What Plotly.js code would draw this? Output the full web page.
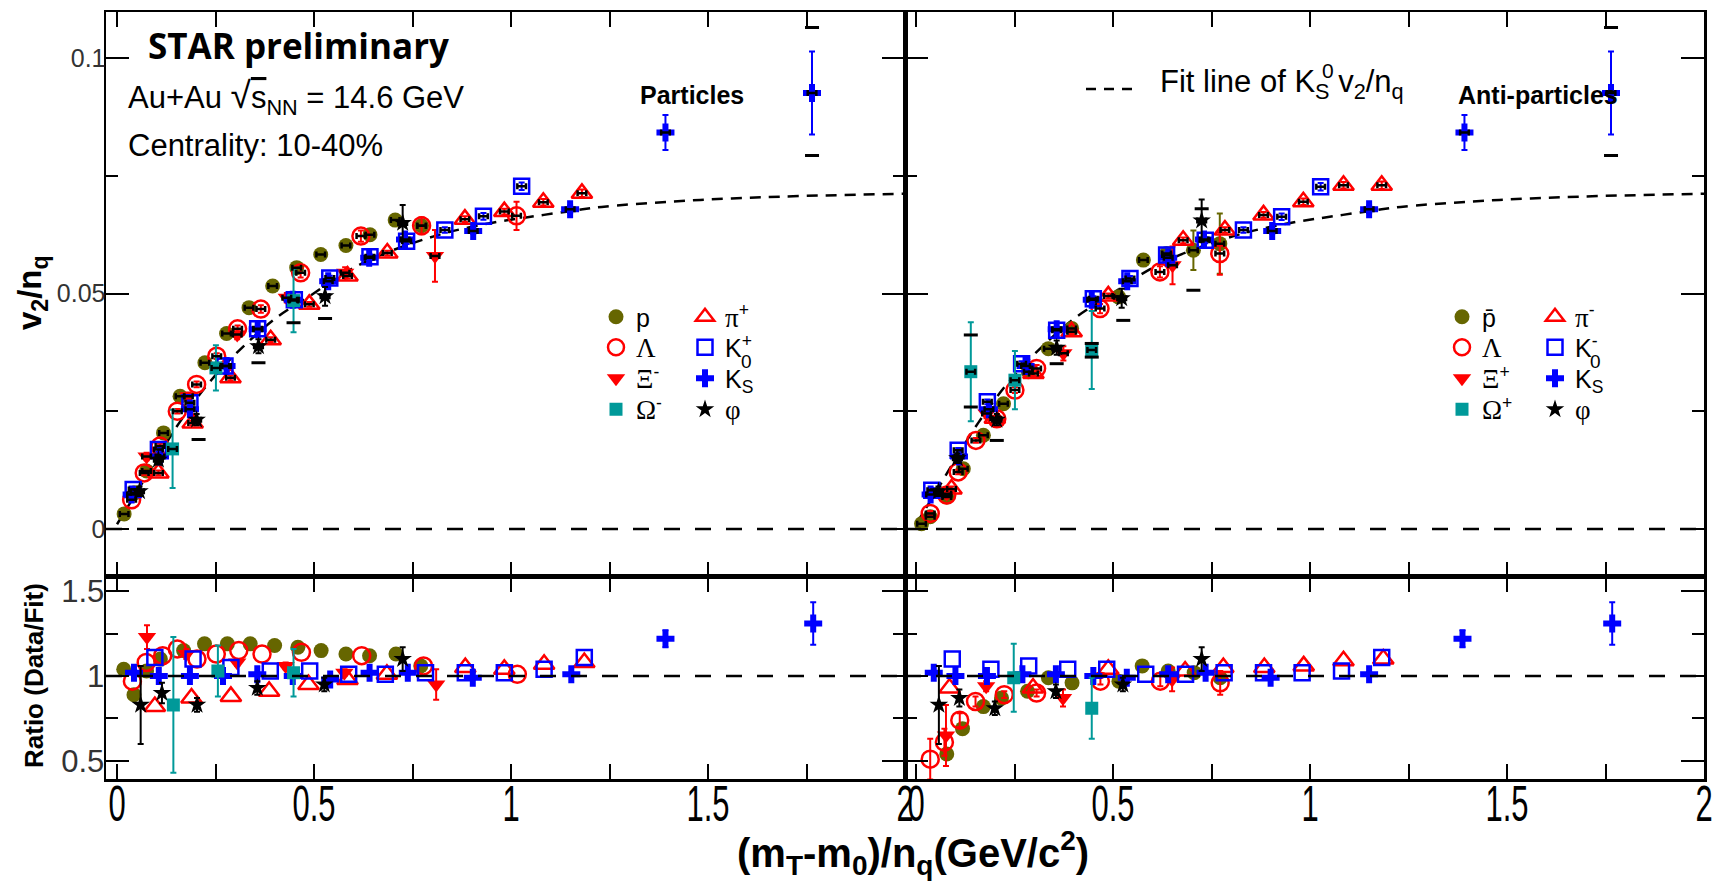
<!DOCTYPE html>
<html><head><meta charset="utf-8">
<script src="https://cdn.plot.ly/plotly-3.0.1.min.js"></script>
<style>html,body{margin:0;padding:0;background:#fff;}#chart{width:1716px;height:891px;}</style>
</head><body><div id="chart"></div>
<script>
// ---------------- data ----------------
const fitX=[0.0,0.05,0.1,0.16,0.24,0.33,0.41,0.49,0.57,0.65,0.74,0.84,0.95,1.05,1.15,1.23,1.4,1.56,1.73,2.0];
const fitY=[0.0010,0.0078,0.0148,0.0228,0.0317,0.0395,0.0452,0.0495,0.0540,0.0575,0.0604,0.0630,0.0650,0.0663,0.0675,0.0684,0.0695,0.0702,0.0707,0.0712];

// particles (left, upper)
const L_pX=[0.018,0.046,0.075,0.118,0.160,0.223,0.278,0.335,0.395,0.456,0.517,0.581,0.642,0.706,0.773];
const L_pY=[0.0032,0.0077,0.0123,0.0204,0.0282,0.0353,0.0415,0.0470,0.0516,0.0555,0.0583,0.0602,0.0625,0.0656,0.0644];
const L_pE=[0.0005,0.0005,0.0005,0.0005,0.0005,0.0005,0.0005,0.0005,0.0005,0.0005,0.0005,0.0006,0.0006,0.0008,0.0010];
const L_lamX=[0.037,0.069,0.109,0.153,0.202,0.253,0.306,0.365,0.466,0.619,0.773,1.014];
const L_lamY=[0.0062,0.0119,0.0176,0.0250,0.0307,0.0367,0.0425,0.0467,0.0544,0.0622,0.0644,0.0665];
const L_lamE=[0.0005,0.0005,0.0005,0.0005,0.0006,0.0006,0.0007,0.0008,0.0010,0.0012,0.0018,0.0030];
const L_xiX=[0.075,0.181,0.305,0.431,0.579,0.807];
const L_xiY=[0.0154,0.0282,0.0413,0.0491,0.0544,0.0580];
const L_xiE=[0.0008,0.0008,0.0010,0.0010,0.0012,0.0055];
const L_omX=[0.141,0.251,0.448];
const L_omY=[0.0170,0.0342,0.0485];
const L_omE=[0.0083,0.0048,0.0067];
const L_piX=[0.105,0.192,0.288,0.390,0.488,0.585,0.686,0.883,0.983,1.082,1.180];
const L_piY=[0.0119,0.0225,0.0321,0.0402,0.0477,0.0537,0.0586,0.0658,0.0674,0.0694,0.0713];
const L_piE=[0.0005,0.0005,0.0005,0.0005,0.0005,0.0005,0.0005,0.0006,0.0006,0.0007,0.0008];
const L_kX=[0.041,0.105,0.185,0.274,0.357,0.450,0.540,0.642,0.735,0.832,0.930,1.027];
const L_kY=[0.0084,0.0169,0.0268,0.0346,0.0425,0.0487,0.0533,0.0578,0.0611,0.0635,0.0664,0.0728];
const L_kE=[0.0005,0.0005,0.0005,0.0005,0.0005,0.0005,0.0005,0.0005,0.0006,0.0006,0.0007,0.0008];
const L_k0X=[0.037,0.109,0.185,0.278,0.357,0.446,0.536,0.640,0.731,0.904,1.150,1.392,1.764];
const L_k0Y=[0.0073,0.0154,0.0254,0.0346,0.0424,0.0487,0.0526,0.0576,0.0615,0.0633,0.0679,0.0842,0.0926];
const L_k0E=[0.0005,0.0005,0.0005,0.0005,0.0005,0.0005,0.0005,0.0005,0.0005,0.0006,0.0008,0.0037,0.0088];
const L_phiX=[0.057,0.105,0.202,0.359,0.528,0.725];
const L_phiY=[0.0080,0.0147,0.0232,0.0388,0.0494,0.0650];
const L_phiE=[0.0010,0.0010,0.0012,0.0015,0.0020,0.0038];
const L_sysX=[1.764,1.764,0.207,0.359,0.528,0.448];
const L_sysY=[0.1065,0.0793,0.0190,0.0353,0.0447,0.0438];

// anti-particles (right, upper)
const R_pX=[0.014,0.036,0.078,0.120,0.171,0.222,0.285,0.336,0.395,0.514,0.577,0.636,0.704,0.771];
const R_pY=[0.0011,0.0026,0.0068,0.0128,0.0199,0.0266,0.0334,0.0383,0.0426,0.0493,0.0571,0.0585,0.0592,0.0606];
const R_pE=[0.0005,0.0005,0.0005,0.0005,0.0005,0.0005,0.0005,0.0005,0.0006,0.0007,0.0010,0.0012,0.0042,0.0064];
const R_lamX=[0.036,0.078,0.107,0.152,0.205,0.251,0.306,0.467,0.619,0.771];
const R_lamY=[0.0033,0.0072,0.0121,0.0188,0.0234,0.0295,0.0341,0.0468,0.0546,0.0585];
const R_lamE=[0.0005,0.0005,0.0005,0.0005,0.0006,0.0006,0.0007,0.0010,0.0012,0.0045];
const R_xiX=[0.078,0.179,0.374,0.651];
const R_xiY=[0.0075,0.0245,0.0373,0.0560];
const R_xiE=[0.0008,0.0010,0.0015,0.0040];
const R_omX=[0.139,0.251,0.446];
const R_omY=[0.0334,0.0316,0.0380];
const R_omE=[0.0105,0.0062,0.0083];
const R_piX=[0.090,0.200,0.298,0.395,0.488,0.678,0.784,0.882,0.983,1.085,1.182];
const R_piY=[0.0085,0.0235,0.0330,0.0419,0.0495,0.0613,0.0635,0.0667,0.0695,0.0730,0.0730];
const R_piE=[0.0005,0.0005,0.0005,0.0005,0.0005,0.0006,0.0006,0.0006,0.0007,0.0007,0.0008];
const R_kX=[0.040,0.107,0.181,0.268,0.357,0.450,0.543,0.636,0.734,0.831,0.928,1.027];
const R_kY=[0.0082,0.0167,0.0270,0.0351,0.0422,0.0489,0.0532,0.0582,0.0613,0.0635,0.0663,0.0727];
const R_kE=[0.0005,0.0005,0.0005,0.0005,0.0005,0.0005,0.0005,0.0005,0.0006,0.0006,0.0007,0.0008];
const R_k0X=[0.037,0.109,0.185,0.278,0.357,0.446,0.536,0.640,0.731,0.904,1.150,1.392,1.764];
const R_k0Y=[0.0073,0.0154,0.0254,0.0346,0.0424,0.0487,0.0526,0.0576,0.0615,0.0633,0.0679,0.0842,0.0926];
const R_k0E=[0.0005,0.0005,0.0005,0.0005,0.0005,0.0005,0.0005,0.0005,0.0005,0.0006,0.0008,0.0037,0.0088];
const R_phiX=[0.057,0.105,0.205,0.357,0.522,0.725];
const R_phiY=[0.0080,0.0150,0.0232,0.0385,0.0490,0.0655];
const R_phiE=[0.0010,0.0010,0.0012,0.0015,0.0020,0.0045];
const R_sysX=[1.764,1.764,0.139,0.139,0.446,0.446,0.704,0.725,0.205,0.357,0.526];
const R_sysY=[0.1065,0.0793,0.0412,0.0259,0.0394,0.0365,0.0507,0.0680,0.0188,0.0351,0.0443];

// ratios (left)
const LR_pX=[0.017,0.043,0.075,0.110,0.169,0.222,0.280,0.338,0.400,0.459,0.518,0.581,0.641,0.708,0.771];
const LR_pR=[1.04,0.89,1.03,1.10,1.15,1.19,1.19,1.19,1.18,1.17,1.15,1.13,1.12,1.13,1.06];
const LR_lamX=[0.039,0.074,0.116,0.153,0.203,0.252,0.309,0.368,0.468,0.621,0.778,1.016];
const LR_lamR=[0.97,1.08,1.12,1.16,1.10,1.13,1.15,1.13,1.14,1.12,1.06,1.01];
const LR_xiX=[0.076,0.176,0.305,0.428,0.577,0.810];
const LR_xiR=[1.23,1.13,1.08,1.06,1.02,0.95];
const LR_xiE=[0.07,0.03,0.02,0.02,0.02,0.09];
const LR_omX=[0.143,0.256,0.448];
const LR_omR=[0.83,1.03,1.02];
const LR_omE=[0.40,0.15,0.14];
const LR_piX=[0.096,0.189,0.289,0.386,0.486,0.585,0.685,0.884,0.983,1.084,1.186];
const LR_piR=[0.82,0.87,0.88,0.91,0.95,0.98,1.01,1.05,1.04,1.07,1.08];
const LR_kX=[0.096,0.193,0.289,0.389,0.489,0.588,0.681,0.783,0.884,0.983,1.084,1.186];
const LR_kR=[1.11,1.10,1.05,1.03,1.03,1.01,1.01,1.02,1.02,1.02,1.04,1.11];
const LR_k0X=[0.043,0.106,0.185,0.269,0.356,0.446,0.541,0.641,0.738,0.903,1.153,1.392,1.767];
const LR_k0R=[1.02,1.00,1.00,1.00,1.01,1.00,0.98,1.02,1.02,0.99,1.01,1.22,1.31];
const LR_k0E=[0.01,0.01,0.01,0.01,0.01,0.01,0.01,0.01,0.01,0.01,0.01,0.05,0.125];
const LR_phiX=[0.060,0.114,0.203,0.356,0.526,0.725];
const LR_phiR=[0.83,0.90,0.83,0.93,0.95,1.10];
const LR_phiE=[0.23,0.06,0.04,0.04,0.04,0.07];

// ratios (right)
const RR_pX=[0.078,0.118,0.171,0.217,0.283,0.336,0.396,0.515,0.574,0.640,0.706,0.772];
const RR_pR=[0.54,0.69,0.82,0.87,0.91,0.99,0.96,0.97,1.06,1.03,1.02,0.99];
const RR_lamX=[0.036,0.072,0.111,0.151,0.224,0.306,0.468,0.620,0.772];
const RR_lamR=[0.51,0.61,0.74,0.85,0.89,0.90,0.97,0.97,0.96];
const RR_lamE=[0.12,0.08,0.04,0.03,0.02,0.02,0.02,0.03,0.07];
const RR_xiX=[0.076,0.178,0.373,0.650];
const RR_xiR=[0.65,0.94,0.87,0.98];
const RR_xiE=[0.18,0.03,0.05,0.07];
const RR_omX=[0.248,0.446];
const RR_omR=[0.99,0.81];
const RR_omE=[0.20,0.18];
const RR_piX=[0.085,0.297,0.488,0.683,0.780,0.884,0.984,1.085,1.186];
const RR_piR=[0.93,0.93,1.04,1.03,1.05,1.05,1.06,1.09,1.10];
const RR_kX=[0.092,0.190,0.286,0.385,0.484,0.583,0.684,0.782,0.882,0.980,1.080,1.182];
const RR_kR=[1.10,1.04,1.06,1.04,1.04,1.01,1.01,1.02,1.02,1.02,1.03,1.11];
const RR_k0X=[0.045,0.100,0.180,0.270,0.355,0.450,0.535,0.640,0.735,0.900,1.150,1.387,1.767];
const RR_k0R=[1.02,1.00,1.00,1.01,1.01,1.00,0.99,1.01,1.02,0.99,1.01,1.22,1.31];
const RR_k0E=[0.01,0.01,0.01,0.01,0.01,0.01,0.01,0.01,0.01,0.01,0.01,0.05,0.125];
const RR_phiX=[0.058,0.110,0.200,0.355,0.525,0.725];
const RR_phiR=[0.83,0.87,0.81,0.91,0.95,1.10];
const RR_phiE=[0.23,0.05,0.04,0.04,0.04,0.07];

const xTicks=[0,0.25,0.5,0.75,1,1.25,1.5,1.75,2];
const xTickText=['0','','0.5','','1','','1.5','','2'];

// ---------------- styling ----------------
const W=1716,H=891;
const px=v=>v/W, py=v=>1-v/H;
const OLIVE='#666600',RED='#ff0000',BLUE='#0000ff',TEAL='#009999',BLK='#000000';
const SERIF="font-family:'Liberation Serif','Times New Roman',serif;font-size:27px";
const ST={
  p:{symbol:'circle',size:15,color:OLIVE,lw:0},
  lam:{symbol:'circle-open',size:17,color:RED,lw:2.5},
  xi:{symbol:'triangle-down',size:16,color:RED,lw:0},
  om:{symbol:'square',size:13,color:TEAL,lw:0},
  pi:{symbol:'triangle-up-open',size:18,color:RED,lw:2.5},
  k:{symbol:'square-open',size:15,color:BLUE,lw:2.5},
  k0:{symbol:'cross',size:15,color:BLUE,lw:0},
  phi:{symbol:'star',size:14,color:BLK,lw:0}
};
function mk(st){return {symbol:st.symbol,size:st.size,color:st.color,line:{color:st.color,width:st.lw}};}

const traces=[];
[['x','y'],['x2','y2']].forEach(([xa,ya])=>{
  traces.push({type:'scatter',mode:'lines',x:fitX,y:fitY,xaxis:xa,yaxis:ya,line:{color:BLK,width:2.5,dash:'11px,8px',shape:'spline'},showlegend:false,hoverinfo:'skip'});
});

const legendSlots=[];
const rowY=[316,346.5,377.5,408.5];
function upper(xs,ys,es,st,xa,ya,label,lx,row){
  let key=null;
  if(label!==null){
    const n=legendSlots.length+1;
    key=n===1?'legend':'legend'+n;
    legendSlots.push([key,lx,rowY[row]]);
  }
  traces.push({type:'scatter',mode:'markers',x:xs,y:ys,xaxis:xa,yaxis:ya,name:label||'',
    legend:key||'legend',showlegend:label!==null,marker:mk(st),
    error_y:{type:'data',array:es,color:st.color,thickness:2,width:3},hoverinfo:'skip'});
}
function hbars(xs,ys,xa,ya){
  traces.push({type:'scatter',mode:'markers',x:xs,y:ys,xaxis:xa,yaxis:ya,marker:{size:2,opacity:0},
    error_x:{type:'constant',value:0.011,color:BLK,thickness:2.5,width:3},showlegend:false,hoverinfo:'skip'});
}
function ratio(xs,rs,es,st,xa,ya){
  const t={type:'scatter',mode:'markers',x:xs,y:rs,xaxis:xa,yaxis:ya,marker:mk(st),showlegend:false,hoverinfo:'skip'};
  if(es) t.error_y={type:'data',array:es,color:st.color,thickness:2,width:3};
  traces.push(t);
}
function sys(xs,ys,xa,ya){
  traces.push({type:'scatter',mode:'markers',x:xs,y:ys,xaxis:xa,yaxis:ya,marker:{symbol:'line-ew',size:10,line:{color:BLK,width:3}},showlegend:false,hoverinfo:'skip'});
}

const LC1=616, LC2=705, RC1=1462, RC2=1555;
upper(L_pX,L_pY,L_pE,ST.p,'x','y','p',LC1,0);
upper(L_lamX,L_lamY,L_lamE,ST.lam,'x','y',`<span style="${SERIF}">Λ</span>`,LC1,1);
upper(L_xiX,L_xiY,L_xiE,ST.xi,'x','y',`<span style="${SERIF}">Ξ</span><sup>-</sup>`,LC1,2);
upper(L_piX,L_piY,L_piE,ST.pi,'x','y',`<span style="${SERIF}">π</span><sup>+</sup>`,LC2,0);
upper(L_kX,L_kY,L_kE,ST.k,'x','y','K<sup>+</sup>',LC2,1);
upper(L_k0X,L_k0Y,L_k0E,ST.k0,'x','y','K<sub>S</sub>',LC2,2);
upper(L_phiX,L_phiY,L_phiE,ST.phi,'x','y',`<span style="${SERIF}">φ</span>`,LC2,3);
upper(L_omX,L_omY,L_omE,ST.om,'x','y',`<span style="${SERIF}">Ω</span><sup>-</sup>`,LC1,3);
[[L_pX,L_pY],[L_lamX,L_lamY],[L_xiX,L_xiY],[L_piX,L_piY],[L_kX,L_kY],[L_k0X,L_k0Y],[L_phiX,L_phiY],[L_omX,L_omY]].forEach(([a,b])=>hbars(a,b,'x','y'));
sys(L_sysX,L_sysY,'x','y');

upper(R_pX,R_pY,R_pE,ST.p,'x2','y2','p\u0304',RC1,0);
upper(R_lamX,R_lamY,R_lamE,ST.lam,'x2','y2',`<span style="${SERIF}">Λ</span>`,RC1,1);
upper(R_xiX,R_xiY,R_xiE,ST.xi,'x2','y2',`<span style="${SERIF}">Ξ</span><sup>+</sup>`,RC1,2);
upper(R_piX,R_piY,R_piE,ST.pi,'x2','y2',`<span style="${SERIF}">π</span><sup>-</sup>`,RC2,0);
upper(R_kX,R_kY,R_kE,ST.k,'x2','y2','K<sup>-</sup>',RC2,1);
upper(R_k0X,R_k0Y,R_k0E,ST.k0,'x2','y2','K<sub>S</sub>',RC2,2);
upper(R_phiX,R_phiY,R_phiE,ST.phi,'x2','y2',`<span style="${SERIF}">φ</span>`,RC2,3);
upper(R_omX,R_omY,R_omE,ST.om,'x2','y2',`<span style="${SERIF}">Ω</span><sup>+</sup>`,RC1,3);
[[R_pX,R_pY],[R_lamX,R_lamY],[R_xiX,R_xiY],[R_piX,R_piY],[R_kX,R_kY],[R_k0X,R_k0Y],[R_phiX,R_phiY],[R_omX,R_omY]].forEach(([a,b])=>hbars(a,b,'x2','y2'));
sys(R_sysX,R_sysY,'x2','y2');

ratio(LR_pX,LR_pR,null,ST.p,'x3','y3');
ratio(LR_lamX,LR_lamR,null,ST.lam,'x3','y3');
ratio(LR_xiX,LR_xiR,LR_xiE,ST.xi,'x3','y3');
ratio(LR_piX,LR_piR,null,ST.pi,'x3','y3');
ratio(LR_kX,LR_kR,null,ST.k,'x3','y3');
ratio(LR_k0X,LR_k0R,LR_k0E,ST.k0,'x3','y3');
ratio(LR_phiX,LR_phiR,LR_phiE,ST.phi,'x3','y3');
ratio(LR_omX,LR_omR,LR_omE,ST.om,'x3','y3');
ratio(RR_pX,RR_pR,null,ST.p,'x4','y4');
ratio(RR_lamX,RR_lamR,RR_lamE,ST.lam,'x4','y4');
ratio(RR_xiX,RR_xiR,RR_xiE,ST.xi,'x4','y4');
ratio(RR_piX,RR_piR,null,ST.pi,'x4','y4');
ratio(RR_kX,RR_kR,null,ST.k,'x4','y4');
ratio(RR_k0X,RR_k0R,RR_k0E,ST.k0,'x4','y4');
ratio(RR_phiX,RR_phiR,RR_phiE,ST.phi,'x4','y4');
ratio(RR_omX,RR_omR,RR_omE,ST.om,'x4','y4');

// ---------------- axes ----------------
const XL=[px(106),px(905)], XR=[px(905),px(1704)];
const YU=[py(576.5),py(12)], YL=[py(779),py(576.5)];
function xax(dom,anchor,labels){return {domain:dom,anchor:anchor,range:[-0.028,2.0],showline:true,linewidth:2.5,linecolor:BLK,
  mirror:'ticks',ticks:'inside',ticklen:15,tickwidth:2,tickcolor:BLK,tickmode:'array',tickvals:xTicks,ticktext:xTickText,
  ticklabeloverflow:'allow',ticklabelstandoff:-20,
  showticklabels:labels,tickfont:{family:"'Liberation Sans',Arial,sans-serif",size:50,color:BLK},showgrid:false,zeroline:false,fixedrange:true};}
function yax(dom,anchor,range,t0,dt,m0,mdt,labels,fs){return {domain:dom,anchor:anchor,range:range,showline:true,linewidth:2.5,linecolor:BLK,
  mirror:'ticks',ticks:'inside',ticklen:23,tickwidth:2,tickcolor:BLK,tickmode:'linear',tick0:t0,dtick:dt,ticklabelstandoff:-7,
  minor:{ticks:'inside',tick0:m0,dtick:mdt,ticklen:12,tickwidth:2,tickcolor:BLK},
  showticklabels:labels,tickfont:{family:"'Liberation Sans',Arial,sans-serif",size:fs,color:'#333'},showgrid:false,zeroline:false,fixedrange:true};}

const shapes=[
  {type:'line',xref:'x domain',yref:'y',x0:0,x1:1,y0:0,y1:0,line:{color:BLK,width:2.5,dash:'16px,15px'}},
  {type:'line',xref:'x2 domain',yref:'y2',x0:0,x1:1,y0:0,y1:0,line:{color:BLK,width:2.5,dash:'16px,15px'}},
  {type:'line',xref:'x3 domain',yref:'y3',x0:0,x1:1,y0:1,y1:1,line:{color:BLK,width:2.5,dash:'16px,15px'}},
  {type:'line',xref:'x4 domain',yref:'y4',x0:0,x1:1,y0:1,y1:1,line:{color:BLK,width:2.5,dash:'16px,15px'}},
  {type:'line',xref:'paper',yref:'paper',x0:px(1086),x1:px(1140),y0:py(89),y1:py(89),line:{color:BLK,width:2.5,dash:'10px,8px'}}
];

function ann(text,x,y,size,opts){return Object.assign({text:text,xref:'paper',yref:'paper',x:px(x),y:py(y),xanchor:'left',yanchor:'middle',showarrow:false,
  font:{family:"'Liberation Sans',Arial,sans-serif",size:size,color:BLK}},opts||{});}
const annotations=[
  ann('<b>STAR preliminary</b>',146,46,35,{font:{family:"'Open Sans','Liberation Sans',sans-serif",size:35,color:BLK}}),
  ann('Au+Au <span style="font-size:37px">√</span><span style="text-decoration:overline">s</span><sub>NN</sub> = 14.6 GeV',126,98,31),
  ann('Centrality: 10-40%',126,145,31),
  ann('<b>Particles</b>',638,95,25),
  ann('<b>Anti-particles</b>',1456,95,25),
  ann('Fit line of K<sub>S</sub> v<sub>2</sub>/n<sub>q</sub>',1158,84,31),
  ann('0',1320,71,21),
  ann('0',739,362,19),
  ann('0',1588,362,19),
  ann('<b>(m<sub>T</sub>-m<sub>0</sub>)/n<sub>q</sub>(GeV/c<sup>2</sup>)</b>',913,853,40,{xanchor:'center'}),
  ann('<b>v<sub>2</sub>/n<sub>q</sub></b>',32,293,33,{xanchor:'center',textangle:-90}),
  ann('<b>Ratio (Data/Fit)</b>',34,676,26,{xanchor:'center',textangle:-90})
];

const layout={width:W,height:H,margin:{l:0,r:0,t:0,b:0,pad:0},paper_bgcolor:'#fff',plot_bgcolor:'#fff',
  font:{family:"'Liberation Sans',Arial,sans-serif",color:BLK},
  xaxis:xax(XL,'y',false), xaxis2:xax(XR,'y2',false), xaxis3:xax(XL,'y3',true), xaxis4:xax(XR,'y4',true),
  yaxis:yax(YU,'x',[-0.0101,0.1098],0,0.05,0,0.025,true,25),
  yaxis2:yax(YU,'x2',[-0.0101,0.1098],0,0.05,0,0.025,false,25),
  yaxis3:yax(YL,'x3',[0.393,1.587],0.5,0.5,0.25,0.25,true,31),
  yaxis4:yax(YL,'x4',[0.393,1.587],0.5,0.5,0.25,0.25,false,31),
  shapes:shapes, annotations:annotations, showlegend:true};
legendSlots.forEach(([key,sx,ry])=>{
  layout[key]={x:px(sx-20),y:py(ry-22),xanchor:'left',yanchor:'top',bgcolor:'rgba(0,0,0,0)',borderwidth:0,
    itemwidth:30,tracegroupgap:0,font:{family:"'Liberation Sans',Arial,sans-serif",size:25,color:BLK},itemclick:false,itemdoubleclick:false};
});

// condense the x tick labels horizontally, as in the reference (re-applied after every redraw)
function condense(gd){
  gd.querySelectorAll('g.x3tick text, g.x4tick text').forEach(t=>{
    if(!t.textContent) return;
    const tr=t.getAttribute('transform')||'';
    if(tr.indexOf('scale(0.62')>=0) return;
    const x=parseFloat(t.getAttribute('x'))||0, y=parseFloat(t.getAttribute('y'))||0;
    t.setAttribute('transform',tr+` translate(${x},${y}) scale(0.62,1) translate(${-x},${-y})`);
  });
}
const gdEl=document.getElementById('chart');
Plotly.newPlot(gdEl,traces,layout,{displayModeBar:false,staticPlot:true}).then(gd=>{
  condense(gd);
  gd.on('plotly_afterplot',()=>condense(gd));
  [30,150,400,900].forEach(ms=>setTimeout(()=>condense(gd),ms));
});
</script></body></html>
